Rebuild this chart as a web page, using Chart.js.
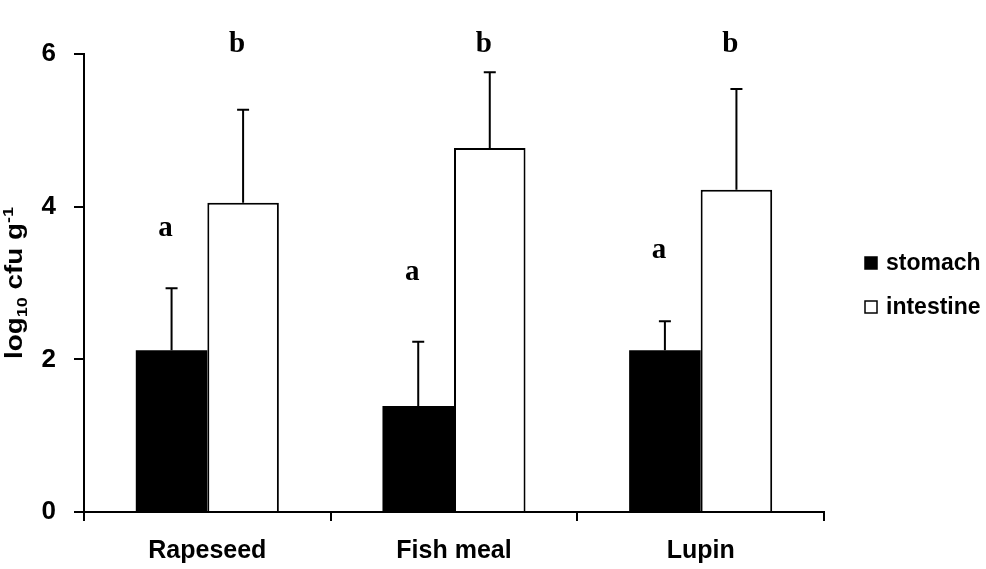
<!DOCTYPE html>
<html>
  <head>
    <title>cfu</title>
    <meta charset="UTF-8" />
    <style>
      body { margin: 0; background: #fff; }
      #app { width: 986px; height: 569px; }
    </style>
  </head>
  <body>
    <div id="app"><canvas id="myChart"></canvas></div>
    <script src="https://cdn.jsdelivr.net/npm/chart.js@4"></script>
    <script>
    // values
    var diets = ['Rapeseed', 'Fish meal', 'Lupin'];
    var stomach = [2.12, 1.39, 2.12];
    var stomach_err = [0.81, 0.84, 0.38];
    var intestine = [4.05, 4.77, 4.22];
    var intestine_err = [1.22, 0.99, 1.32];
    // significance letters and the height they sit at
    var stomach_letters = ['a', 'a', 'a'];
    var stomach_letter_y = [3.71, 3.14, 3.43];
    var intestine_letters = ['b', 'b', 'b'];
    var intestine_letter_y = [6.12, 6.12, 6.12];
    var y_ticks = [0, 2, 4, 6];

    var sans = '"Liberation Sans", Arial, sans-serif';
    var serif = '"Liberation Serif", "Times New Roman", serif';

    var extras = {
      id: 'extras',
      afterDatasetsDraw: function(chart) {
        var ctx = chart.ctx;
        var y = chart.scales.y;
        var errs = [stomach_err, intestine_err];
        ctx.save();
        ctx.strokeStyle = '#000';
        ctx.lineWidth = 2;
        chart.data.datasets.forEach(function(ds, di) {
          var meta = chart.getDatasetMeta(di);
          meta.data.forEach(function(bar, i) {
            var top = y.getPixelForValue(ds.data[i] + errs[di][i]);
            ctx.beginPath();
            ctx.moveTo(bar.x, bar.y);
            ctx.lineTo(bar.x, top);
            ctx.moveTo(bar.x - 6, top);
            ctx.lineTo(bar.x + 6, top);
            ctx.stroke();
          });
        });
        ctx.restore();
      },
      afterDraw: function(chart) {
        var ctx = chart.ctx;
        var y = chart.scales.y;
        var area = chart.chartArea;
        ctx.save();
        // letters
        ctx.fillStyle = '#000';
        ctx.font = 'bold 29px ' + serif;
        ctx.textAlign = 'center';
        ctx.textBaseline = 'middle';
        var letters = [[stomach_letters, stomach_letter_y], [intestine_letters, intestine_letter_y]];
        letters.forEach(function(l, di) {
          var meta = chart.getDatasetMeta(di);
          meta.data.forEach(function(bar, i) {
            ctx.fillText(l[0][i], bar.x - 6, y.getPixelForValue(l[1][i]));
          });
        });

        // legend
        var items = [['stomach', '#000'], ['intestine', '#fff']];
        ctx.font = 'bold 23px ' + sans;
        ctx.textAlign = 'left';
        items.forEach(function(it, i) {
          var cy = 263 + i * 44;
          ctx.fillStyle = it[1];
          ctx.fillRect(865, cy - 6, 12, 12);
          ctx.strokeStyle = '#000';
          ctx.lineWidth = 1.5;
          ctx.strokeRect(865, cy - 6, 12, 12);
          ctx.fillStyle = '#000';
          ctx.fillText(it[0], 886, cy + 1);
        });

        // y title: log10 cfu g-1 (stretched like the source)
        var parts = [['log', 23, 0], ['10', 15, 5], [' cfu g', 23, 0], ['-1', 15, -9]];
        var w = 0;
        parts.forEach(function(p) { ctx.font = 'bold ' + p[1] + 'px ' + sans; w += ctx.measureText(p[0]).width; });
        var sx = 152 / w;
        ctx.translate(22, (area.top + area.bottom) / 2);
        ctx.rotate(-Math.PI / 2);
        ctx.scale(sx, 1);
        ctx.textBaseline = 'alphabetic';
        var x = -w / 2;
        parts.forEach(function(p) {
          ctx.font = 'bold ' + p[1] + 'px ' + sans;
          ctx.fillText(p[0], x, p[2]);
          x += ctx.measureText(p[0]).width;
        });
        ctx.restore();
      }
    };

    var config = {
      type: 'bar',
      data: {
        labels: diets,
        datasets: [{
          label: 'stomach',
          data: stomach,
          backgroundColor: '#000',
          borderColor: '#000',
          borderWidth: 0
        }, {
          label: 'intestine',
          data: intestine,
          backgroundColor: '#fff',
          borderColor: '#000',
          borderWidth: 2
        }]
      },
      options: {
        responsive: true,
        maintainAspectRatio: false,
        animation: false,
        layout: { padding: { left: 0, right: 162, top: 54, bottom: 0 } },
        datasets: { bar: { categoryPercentage: 0.58, barPercentage: 1.0 } },
        plugins: { legend: { display: false }, tooltip: { enabled: false } },
        scales: {
          x: {
            afterFit: function(s) { s.height = 57; },
            grid: { offset: true, drawOnChartArea: false, drawTicks: true, tickLength: 9, color: '#000', lineWidth: 2 },
            border: { display: true, color: '#000', width: 2 },
            ticks: { color: '#000', padding: 15, font: { family: sans, size: 25, weight: 'bold' } }
          },
          y: {
            min: 0,
            max: 6,
            afterFit: function(s) { s.width = 84; },
            afterBuildTicks: function(s) { s.ticks = y_ticks.map(function(v) { return { value: v }; }); },
            grid: { drawOnChartArea: false, drawTicks: true, tickLength: 10, color: '#000', lineWidth: 2 },
            border: { display: true, color: '#000', width: 2 },
            ticks: { color: '#000', padding: 18, font: { family: sans, size: 26, weight: 'bold' } }
          }
        }
      },
      plugins: [extras]
    };

    var myChart = new Chart(document.getElementById('myChart'), config);
    </script>
  </body>
</html>
